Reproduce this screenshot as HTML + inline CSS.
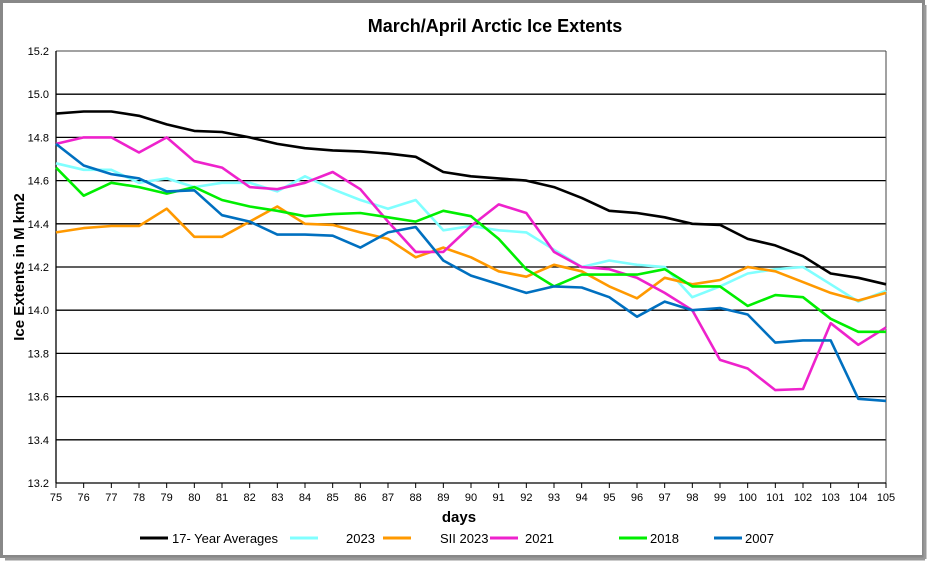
<!DOCTYPE html>
<html><head><meta charset="utf-8"><style>
body{margin:0;background:#fff;}
svg{display:block;font-family:"Liberation Sans",Arial,sans-serif;}
</style></head><body>
<svg id="s" width="930" height="562" xmlns="http://www.w3.org/2000/svg">
<rect x="0" y="0" width="930" height="562" fill="#fff"/>
<rect x="1.5" y="1.5" width="922" height="555" fill="#fff" stroke="#888" stroke-width="3"/>
<line x1="925" y1="5" x2="925" y2="559" stroke="#999" stroke-width="3"/>
<line x1="5" y1="559" x2="925" y2="559" stroke="#999" stroke-width="3"/>
<text x="495" y="32" font-size="18" font-weight="bold" text-anchor="middle">March/April Arctic Ice Extents</text>
<text x="459" y="522" font-size="15" font-weight="bold" text-anchor="middle">days</text>
<text transform="translate(24,267) rotate(-90)" font-size="15" font-weight="bold" text-anchor="middle">Ice Extents in M km2</text>
<g id="g"></g>
</svg>
<script>
var L=56,R=886,T=51,B=483;
function Y(v){return T+(15.2-v)*(B-T)/2;}
function X(i){return L+i*(R-L)/30;}
var g=document.getElementById('g'),h='';
for(var k=0;k<=10;k++){var v=13.2+k*0.2,y=Y(v);
 if(k>0&&k<10)h+='<line x1="'+L+'" y1="'+y+'" x2="'+R+'" y2="'+y+'" stroke="#000" stroke-width="1.3"/>';
 h+='<text x="49" y="'+(y+4)+'" font-size="11" text-anchor="end">'+v.toFixed(1)+'</text>';}
h+='<line x1="'+L+'" y1="'+T+'" x2="'+R+'" y2="'+T+'" stroke="#444" stroke-width="1"/>';
h+='<line x1="'+R+'" y1="'+T+'" x2="'+R+'" y2="'+B+'" stroke="#444" stroke-width="1"/>';
h+='<line x1="'+L+'" y1="'+T+'" x2="'+L+'" y2="'+B+'" stroke="#000" stroke-width="1.3"/>';
h+='<line x1="'+L+'" y1="'+B+'" x2="'+R+'" y2="'+B+'" stroke="#000" stroke-width="1.3"/>';
for(var i=0;i<=30;i++){var x=X(i);
 h+='<line x1="'+x+'" y1="'+B+'" x2="'+x+'" y2="'+(B+5)+'" stroke="#000"/>';
 h+='<text x="'+x+'" y="'+(B+18)+'" font-size="11" text-anchor="middle">'+(75+i)+'</text>';}
var S=[
['#00ffff',[14.68,14.65,14.65,14.59,14.61,14.57,14.59,14.59,14.55,14.62,14.56,14.51,14.47,14.51,14.37,14.39,14.37,14.36,14.28,14.20,14.23,14.21,14.20,14.06,14.11,14.17,14.19,14.20,14.12,14.04,14.09],'#80ffff'],
['#ff9900',[14.36,14.38,14.39,14.39,14.47,14.34,14.34,14.41,14.48,14.40,14.395,14.36,14.33,14.245,14.29,14.245,14.18,14.155,14.21,14.18,14.11,14.055,14.15,14.12,14.14,14.20,14.18,14.13,14.08,14.045,14.08]],
['#ff33cc',[14.77,14.80,14.80,14.73,14.80,14.69,14.66,14.57,14.56,14.59,14.64,14.56,14.41,14.27,14.27,14.39,14.49,14.45,14.27,14.20,14.19,14.15,14.08,14.00,13.77,13.73,13.63,13.635,13.94,13.84,13.92],'#ee22cc'],
['#00ee00',[14.66,14.53,14.59,14.57,14.54,14.57,14.51,14.48,14.46,14.435,14.445,14.45,14.43,14.41,14.46,14.435,14.33,14.19,14.11,14.165,14.165,14.165,14.19,14.11,14.11,14.02,14.07,14.06,13.96,13.90,13.90]],
['#0070c0',[14.77,14.67,14.63,14.61,14.55,14.555,14.44,14.41,14.35,14.35,14.345,14.29,14.36,14.385,14.23,14.16,14.12,14.08,14.11,14.105,14.06,13.97,14.04,14.00,14.01,13.98,13.85,13.86,13.86,13.59,13.58]],
['#000',[14.91,14.92,14.92,14.90,14.86,14.83,14.825,14.80,14.77,14.75,14.74,14.735,14.725,14.71,14.64,14.62,14.61,14.60,14.57,14.52,14.46,14.45,14.43,14.40,14.395,14.33,14.30,14.25,14.17,14.15,14.12]]];
S.forEach(function(s){var c=s[2]||s[0];var p=s[1].map(function(v,i){return X(i).toFixed(1)+','+Y(v).toFixed(1)}).join(' ');
 h+='<polyline points="'+p+'" fill="none" stroke="'+c+'" stroke-width="2.6" stroke-linejoin="round"/>';});
var Lg=[[140,172,'#000','17- Year Averages'],[290,346,'#80ffff','2023'],[383,440,'#ff9900','SII 2023'],[490,525,'#ee22cc','2021'],[619,650,'#00ee00','2018'],[714,745,'#0070c0','2007']];
Lg.forEach(function(l){h+='<line x1="'+l[0]+'" y1="538" x2="'+(l[0]+28)+'" y2="538" stroke="'+l[2]+'" stroke-width="3"/>';
 h+='<text x="'+l[1]+'" y="543" font-size="13">'+l[3]+'</text>';});
g.innerHTML=h;
</script>
</body></html>
